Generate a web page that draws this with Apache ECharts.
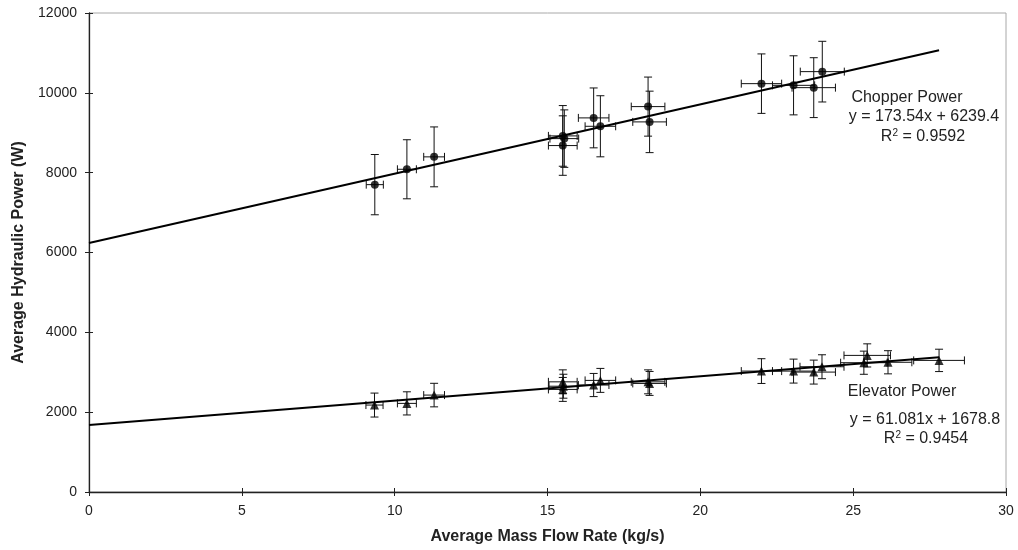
<!DOCTYPE html>
<html>
<head>
<meta charset="utf-8">
<script src="https://cdn.jsdelivr.net/npm/echarts@6/dist/echarts.min.js"></script>
<style>
  html, body { margin: 0; padding: 0; background: #fff; }
  #chart { width: 1018px; height: 550px; }
</style>
</head>
<body>
<div id="chart"></div>
<script>
// Chopper hydraulic power vs. mass flow rate
const chopperX    = [9.35, 10.40, 11.29, 15.50, 15.55, 15.50, 16.51, 16.73, 18.29, 18.34, 22.00, 23.05, 23.71, 23.99];
const chopperY    = [7700, 8085, 8396, 8921, 8853, 8679, 9372, 9162, 9655, 9272, 10230, 10188, 10130, 10531];
const chopperXErr = [0.28, 0.31, 0.34, 0.47, 0.47, 0.47, 0.50, 0.50, 0.55, 0.55, 0.66, 0.69, 0.71, 0.72];
const chopperYErr = [755, 740, 750, 760, 720, 745, 750, 765, 740, 770, 745, 740, 750, 760];

// Elevator hydraulic power vs. mass flow rate
const elevatorX    = [9.34, 10.40, 11.29, 15.50, 15.52, 15.50, 16.51, 16.73, 18.29, 18.34, 22.00, 23.05, 23.71, 23.98, 25.35, 25.46, 26.14, 27.81];
const elevatorY    = [2178, 2220, 2428, 2760, 2650, 2570, 2680, 2796, 2760, 2720, 3029, 3029, 3004, 3138, 3239, 3422, 3250, 3297];
const elevatorXErr = [0.28, 0.31, 0.34, 0.47, 0.47, 0.47, 0.50, 0.50, 0.55, 0.55, 0.66, 0.69, 0.71, 0.72, 0.76, 0.76, 0.78, 0.83];
const elevatorYErr = [300, 290, 295, 300, 300, 300, 290, 300, 300, 300, 310, 300, 300, 300, 290, 290, 290, 280];

// Linear trendlines (slope, intercept) and the x-span they cover
const chopperFit  = [173.54, 6239.4];
const elevatorFit = [61.081, 1678.8];
const fitRange    = [0, 27.81];

// Axis ticks
const xTicks = [0, 5, 10, 15, 20, 25, 30];
const yTicks = [0, 2000, 4000, 6000, 8000, 10000, 12000];

const FONT = '"Liberation Sans", Arial, sans-serif';

function zip(xs, ys) { return xs.map((x, i) => [x, ys[i]]); }
function zipErr(xs, ys, dxs, dys) { return xs.map((x, i) => [x, ys[i], dxs[i], dys[i]]); }
function fitLine(fit) { return fitRange.map(x => [x, fit[0] * x + fit[1]]); }

function errorBars(params, api) {
  const x = api.value(0), y = api.value(1), dx = api.value(2), dy = api.value(3);
  const top = api.coord([x, y + dy]);
  const bot = api.coord([x, y - dy]);
  const lft = api.coord([x - dx, y]);
  const rgt = api.coord([x + dx, y]);
  const cap = 4;
  const style = { stroke: '#111', lineWidth: 1, fill: null };
  const seg = (x1, y1, x2, y2) => ({ type: 'line', shape: { x1, y1, x2, y2 }, style });
  return {
    type: 'group',
    children: [
      seg(top[0], top[1], bot[0], bot[1]),
      seg(top[0] - cap, top[1], top[0] + cap, top[1]),
      seg(bot[0] - cap, bot[1], bot[0] + cap, bot[1]),
      seg(lft[0], lft[1], rgt[0], rgt[1]),
      seg(lft[0], lft[1] - cap, lft[0], lft[1] + cap),
      seg(rgt[0], rgt[1] - cap, rgt[0], rgt[1] + cap)
    ]
  };
}

const labelStyle = { color: '#222', fontFamily: FONT, fontSize: 14, formatter: v => String(v) };

// Centered annotation text at pixel position (cx, cy)
function noteText(cx, cy, text) {
  return {
    type: 'text', x: cx, y: cy,
    style: {
      text, fill: '#222', font: '16px ' + FONT, align: 'center', verticalAlign: 'middle',
      rich: { sup: { fontSize: 10, verticalAlign: 'top', padding: [0, 0, 8, 0], fill: '#222', fontFamily: FONT } }
    }
  };
}

const chart = echarts.init(document.getElementById('chart'), null, { renderer: 'canvas' });

chart.setOption({
  backgroundColor: '#fff',
  animation: false,
  grid: { left: 89, right: 12, top: 13, bottom: 57, show: true, borderColor: '#a8a8a8', borderWidth: 1, backgroundColor: 'transparent' },
  xAxis: [
    {
      type: 'value', min: xTicks[0], max: xTicks[xTicks.length - 1], interval: 5, position: 'bottom',
      name: 'Average Mass Flow Rate (kg/s)', nameLocation: 'middle', nameGap: 37,
      nameTextStyle: { color: '#222', fontFamily: FONT, fontSize: 16, fontWeight: 'bold' },
      axisLine: { onZero: false, lineStyle: { color: '#222', width: 1.3 } },
      axisTick: { show: true, inside: false, length: 4, lineStyle: { color: '#222' } },
      axisLabel: Object.assign({ margin: 12 }, labelStyle),
      splitLine: { show: false }
    },
    {
      type: 'value', min: xTicks[0], max: xTicks[xTicks.length - 1], interval: 5, position: 'bottom',
      axisLine: { show: false, onZero: false },
      axisTick: { show: true, inside: true, length: 4, lineStyle: { color: '#222' } },
      axisLabel: { show: false }, splitLine: { show: false }
    }
  ],
  yAxis: [
    {
      type: 'value', min: yTicks[0], max: yTicks[yTicks.length - 1], interval: 2000, position: 'left',
      name: 'Average Hydraulic Power (W)', nameLocation: 'middle', nameGap: 62, nameRotate: 90,
      nameTextStyle: { color: '#222', fontFamily: FONT, fontSize: 16, fontWeight: 'bold' },
      axisLine: { show: true, onZero: false, lineStyle: { color: '#222', width: 1.3 } },
      axisTick: { show: true, inside: false, length: 4, lineStyle: { color: '#222' } },
      axisLabel: Object.assign({ margin: 12 }, labelStyle),
      splitLine: { show: false }
    },
    {
      type: 'value', min: yTicks[0], max: yTicks[yTicks.length - 1], interval: 2000, position: 'left',
      axisLine: { show: false, onZero: false },
      axisTick: { show: true, inside: true, length: 4, lineStyle: { color: '#222' } },
      axisLabel: { show: false }, splitLine: { show: false }
    }
  ],
  series: [
    {
      name: 'Chopper error', type: 'custom', renderItem: errorBars, clip: false, z: 2,
      data: zipErr(chopperX, chopperY, chopperXErr, chopperYErr)
    },
    {
      name: 'Elevator error', type: 'custom', renderItem: errorBars, clip: false, z: 2,
      data: zipErr(elevatorX, elevatorY, elevatorXErr, elevatorYErr)
    },
    {
      name: 'Chopper trend', type: 'line', data: fitLine(chopperFit), symbol: 'none', z: 3,
      lineStyle: { color: '#000', width: 2 }
    },
    {
      name: 'Elevator trend', type: 'line', data: fitLine(elevatorFit), symbol: 'none', z: 3,
      lineStyle: { color: '#000', width: 2 }
    },
    {
      name: 'Chopper Power', type: 'scatter', data: zip(chopperX, chopperY), z: 4,
      symbol: 'circle', symbolSize: 8, itemStyle: { color: '#000' }
    },
    {
      name: 'Elevator Power', type: 'scatter', data: zip(elevatorX, elevatorY), z: 4,
      symbol: 'triangle', symbolSize: 9, itemStyle: { color: '#000' }
    }
  ],
  graphic: [
    noteText(907, 98, 'Chopper Power'),
    noteText(924, 117, 'y = ' + chopperFit[0] + 'x + ' + chopperFit[1]),
    noteText(923, 137, 'R{sup|2} = 0.9592'),
    noteText(902, 392, 'Elevator Power'),
    noteText(925, 420, 'y = ' + elevatorFit[0] + 'x + ' + elevatorFit[1]),
    noteText(926, 439, 'R{sup|2} = 0.9454')
  ]
});
</script>
</body>
</html>
